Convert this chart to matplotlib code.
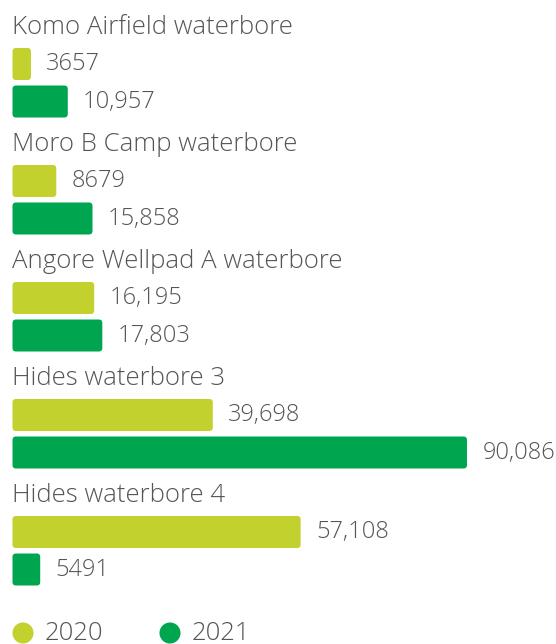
import matplotlib
matplotlib.use("Agg")
import matplotlib.pyplot as plt
from matplotlib.patches import FancyBboxPatch

categories = ["Komo Airfield waterbore", "Moro B Camp waterbore", "Angore Wellpad A waterbore",
              "Hides waterbore 3", "Hides waterbore 4"]
values_2020 = [3657, 8679, 16195, 39698, 57108]
values_2021 = [10957, 15858, 17803, 90086, 5491]
labels_2020 = ["3657", "8679", "16,195", "39,698", "57,108"]
labels_2021 = ["10,957", "15,858", "17,803", "90,086", "5491"]
series = ["2020", "2021"]

C2020 = "#c2d12e"
C2021 = "#00a54f"
TXT = "#555555"
FONT = ["Open Sans", "DejaVu Sans"]
WEIGHT = "light"

W, H = 556, 644
fig = plt.figure(figsize=(W / 100, H / 100), dpi=100)
ax = fig.add_axes([0, 0, 1, 1])
ax.set_axis_off()

x0_px, xmax_px = 12.5, 467.0
s = max(values_2021 + values_2020) / (xmax_px - x0_px)  # data units per px
ax.set_xlim(-x0_px * s, (W - x0_px) * s)
ax.set_ylim(H, 0)

group_step = 117.0
bar_h = 32.0
for i, cat in enumerate(categories):
    base = 27 + i * group_step
    ax.text(-0.5 * s, base, cat, fontsize=18.5, color=TXT, va="center", ha="left",
            family=FONT, fontweight=WEIGHT)
    for j, (vals, labs, col) in enumerate([(values_2020, labels_2020, C2020),
                                          (values_2021, labels_2021, C2021)]):
        yc = base + 37 + j * 37.5
        v = vals[i]
        p = FancyBboxPatch((0, yc - bar_h / 2), v, bar_h,
                           boxstyle=f"round,pad=0,rounding_size={3.5 * s}",
                           mutation_aspect=1 / s, facecolor=col, edgecolor="none")
        ax.add_patch(p)
        ax.annotate(labs[i], (v, yc), xytext=(11, 0), textcoords="offset points",
                    fontsize=17, color=TXT, va="center", ha="left", family=FONT,
                    fontweight=WEIGHT)

# legend
leg_y = 633
for k, (name, col) in enumerate(zip(series, [C2020, C2021])):
    xm = (23 + k * 147 - x0_px) * s
    ax.scatter([xm], [leg_y], s=230, color=col, edgecolors="none", clip_on=False)
    ax.text(xm + 22 * s, leg_y, name, fontsize=18.5, color=TXT, va="center", ha="left",
            family=FONT, fontweight=WEIGHT)

fig.savefig("out.png", dpi=100)
